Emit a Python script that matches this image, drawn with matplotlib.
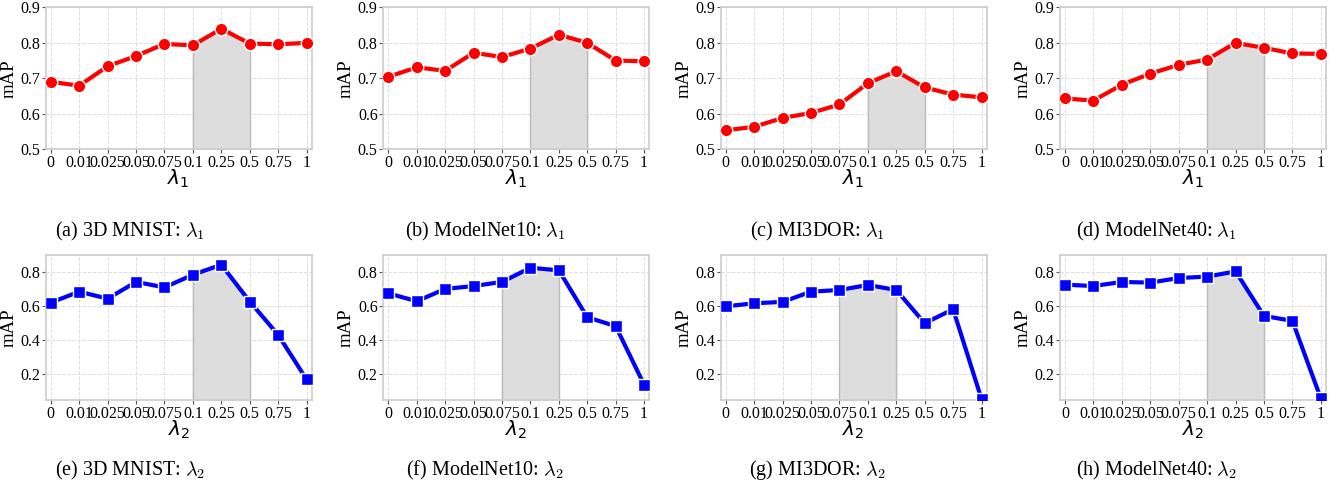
import matplotlib
matplotlib.use("Agg")
import matplotlib.pyplot as plt
import numpy as np

plt.rcParams['font.family'] = ['Liberation Serif', 'DejaVu Serif']

lam_labels = ['0', '0.01', '0.025', '0.05', '0.075', '0.1', '0.25', '0.5', '0.75', '1']

# mAP for lambda_1 (top row)
mnist_l1 = [0.690, 0.679, 0.734, 0.763, 0.797, 0.793, 0.840, 0.798, 0.796, 0.800]
mn10_l1 = [0.704, 0.731, 0.721, 0.772, 0.760, 0.784, 0.823, 0.800, 0.750, 0.748]
mi3dor_l1 = [0.553, 0.563, 0.588, 0.602, 0.626, 0.686, 0.720, 0.674, 0.654, 0.646]
mn40_l1 = [0.643, 0.637, 0.682, 0.713, 0.738, 0.753, 0.800, 0.786, 0.770, 0.769]

# mAP for lambda_2 (bottom row)
mnist_l2 = [0.621, 0.685, 0.644, 0.742, 0.710, 0.784, 0.843, 0.627, 0.432, 0.171]
mn10_l2 = [0.675, 0.629, 0.701, 0.718, 0.742, 0.825, 0.810, 0.535, 0.483, 0.140]
mi3dor_l2 = [0.599, 0.617, 0.625, 0.685, 0.695, 0.724, 0.695, 0.500, 0.582, 0.056]
mn40_l2 = [0.726, 0.718, 0.742, 0.738, 0.765, 0.773, 0.804, 0.543, 0.514, 0.060]

top_series = [mnist_l1, mn10_l1, mi3dor_l1, mn40_l1]
bot_series = [mnist_l2, mn10_l2, mi3dor_l2, mn40_l2]
top_shade = [(5, 7), (5, 7), (5, 7), (5, 7)]
bot_shade = [(5, 7), (4, 6), (4, 6), (5, 7)]
top_caps = ['(a) 3D MNIST: ', '(b) ModelNet10: ', '(c) MI3DOR: ', '(d) ModelNet40: ']
bot_caps = ['(e) 3D MNIST: ', '(f) ModelNet10: ', '(g) MI3DOR: ', '(h) ModelNet40: ']

fig = plt.figure(figsize=(13.4, 4.97), dpi=100)

lefts = [0.0341, 0.286, 0.5378, 0.791]
cap_x = [0.097, 0.362, 0.610, 0.863]
x = np.arange(len(lam_labels))


def draw(ax, y, shade, color, marker, ylim, yticks, xlab):
    y = np.array(y)
    s0, s1 = shade
    ax.fill_between(x[s0:s1 + 1], ylim[0], y[s0:s1 + 1], color='#dddddd', zorder=1)
    for k in (s0, s1):
        ax.plot([x[k], x[k]], [ylim[0], y[k]], color='#bbbbbb', lw=1, zorder=1.5)
    ax.plot(x, y, color=color, lw=3, marker=marker, ms=9 if marker == 'o' else 8.5,
            mec='white', mew=1, zorder=3)
    ax.set_xlim(-0.18, 9.18)
    ax.set_ylim(*ylim)
    ax.set_yticks(yticks)
    ax.set_yticklabels([f'{t:g}' for t in yticks])
    ax.set_xticks(x)
    ax.set_xticklabels(lam_labels)
    ax.tick_params(labelsize=11.5, length=3, width=0.8, color='#555555', pad=1)
    ax.grid(True, ls='--', color='#dddddd', lw=0.7)
    ax.set_axisbelow(True)
    for sp in ax.spines.values():
        sp.set_color('#cccccc')
        sp.set_linewidth(1.2)
    ax.set_ylabel('mAP', fontsize=13.5, labelpad=2)
    ax.set_xlabel(xlab, fontsize=14.5, labelpad=-2, family='DejaVu Sans')


for i in range(4):
    ax = fig.add_axes([lefts[i], 0.700, 0.1985, 0.285])
    draw(ax, top_series[i], top_shade[i], '#ff0000', 'o', (0.5, 0.9),
         [0.5, 0.6, 0.7, 0.8, 0.9], r'$\lambda_1$')
    fig.text(cap_x[i], 0.535, top_caps[i] + r'$\lambda_1$', fontsize=14.5,
             ha='center', va='center', math_fontfamily='cm')

for i in range(4):
    ax = fig.add_axes([lefts[i], 0.195, 0.1985, 0.292])
    draw(ax, bot_series[i], bot_shade[i], '#0000ff', 's', (0.05, 0.9),
         [0.2, 0.4, 0.6, 0.8], r'$\lambda_2$')
    fig.text(cap_x[i], 0.054, bot_caps[i] + r'$\lambda_2$', fontsize=14.5,
             ha='center', va='center', math_fontfamily='cm')

fig.savefig('out.png', dpi=100)
